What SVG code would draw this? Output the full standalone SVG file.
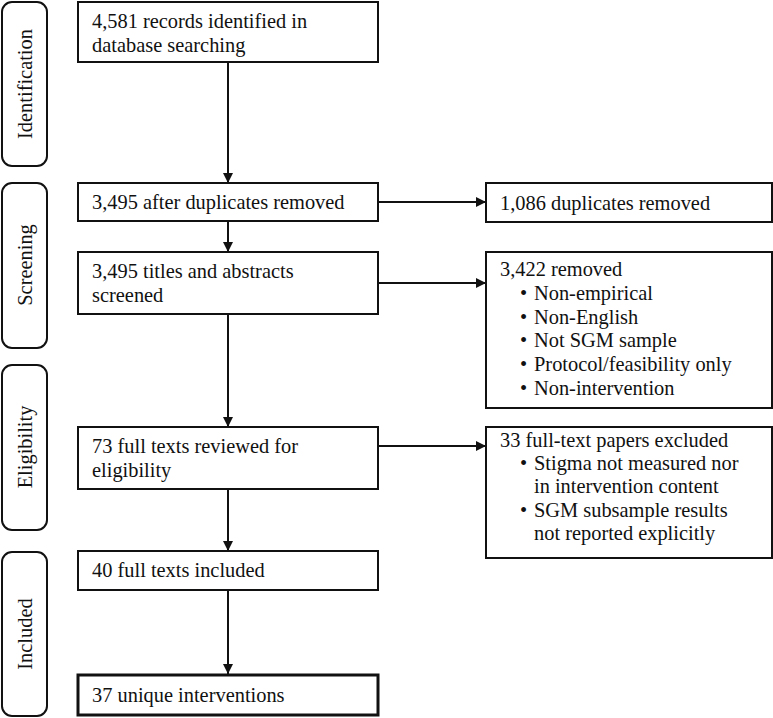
<svg xmlns="http://www.w3.org/2000/svg" width="773" height="718" viewBox="0 0 773 718">
<style>
text{font-family:"Liberation Serif","Times New Roman",serif;font-size:20.4px;fill:#111}
.box{fill:#fff;stroke:#111;stroke-width:2}
.thick{stroke-width:3}
.side{fill:#fff;stroke:#111;stroke-width:2}
.c{stroke:#111;stroke-width:2;fill:none}
</style>
<defs>
<marker id="ah" markerWidth="10" markerHeight="10" refX="10" refY="5" orient="auto" markerUnits="userSpaceOnUse">
<path d="M0,0 L10,5 L0,10 Z" fill="#111"/>
</marker>
</defs>
<rect width="773" height="718" fill="#fff"/>
<g id="lbl-identification"><rect class="side" x="2" y="2" width="45" height="164" rx="10"/><text transform="translate(32,84) rotate(-90)" text-anchor="middle">Identification</text></g>
<g id="lbl-screening"><rect class="side" x="2" y="183" width="45" height="165" rx="10"/><text transform="translate(32,265) rotate(-90)" text-anchor="middle">Screening</text></g>
<g id="lbl-eligibility"><rect class="side" x="2" y="365" width="45" height="165" rx="10"/><text transform="translate(32,447) rotate(-90)" text-anchor="middle">Eligibility</text></g>
<g id="lbl-included"><rect class="side" x="2" y="552" width="45" height="164" rx="10"/><text transform="translate(32,634) rotate(-90)" text-anchor="middle">Included</text></g>

<g id="n1"><rect class="box" x="78" y="2" width="300" height="60"/><text x="92" y="28">4,581 records identified in</text><text x="92" y="52">database searching</text></g>
<g id="n2"><rect class="box" x="78" y="183" width="300" height="38"/><text x="92" y="209">3,495 after duplicates removed</text></g>
<g id="n3"><rect class="box" x="78" y="252" width="300" height="62"/><text x="92" y="278">3,495 titles and abstracts</text><text x="92" y="302">screened</text></g>
<g id="n4"><rect class="box" x="78" y="427" width="300" height="62"/><text x="92" y="453">73 full texts reviewed for</text><text x="92" y="477">eligibility</text></g>
<g id="n5"><rect class="box" x="78" y="551" width="300" height="39"/><text x="92" y="577">40 full texts included</text></g>
<g id="n6"><rect class="box thick" x="78" y="675" width="300" height="40"/><text x="92" y="702">37 unique interventions</text></g>

<g id="r1"><rect class="box" x="486" y="183" width="286" height="39"/><text x="500" y="210">1,086 duplicates removed</text></g>
<g id="r2"><rect class="box" x="486" y="252" width="286" height="156"/><text x="500" y="276">3,422 removed</text>
<text x="520" y="300">•</text><text x="534" y="300">Non-empirical</text>
<text x="520" y="324">•</text><text x="534" y="324">Non-English</text>
<text x="520" y="347">•</text><text x="534" y="347">Not SGM sample</text>
<text x="520" y="371">•</text><text x="534" y="371">Protocol/feasibility only</text>
<text x="520" y="395">•</text><text x="534" y="395">Non-intervention</text></g>
<g id="r3"><rect class="box" x="486" y="427" width="286" height="131"/><text x="500" y="447">33 full-text papers excluded</text>
<text x="520" y="470">•</text><text x="534" y="470">Stigma not measured nor</text>
<text x="534" y="493">in intervention content</text>
<text x="520" y="517">•</text><text x="534" y="517">SGM subsample results</text>
<text x="534" y="540">not reported explicitly</text></g>

<g id="connectors">
<line class="c" x1="228" y1="62" x2="228" y2="183" marker-end="url(#ah)"/>
<line class="c" x1="228" y1="221" x2="228" y2="252" marker-end="url(#ah)"/>
<line class="c" x1="228" y1="314" x2="228" y2="427" marker-end="url(#ah)"/>
<line class="c" x1="228" y1="489" x2="228" y2="551" marker-end="url(#ah)"/>
<line class="c" x1="228" y1="590" x2="228" y2="674" marker-end="url(#ah)"/>
<line class="c" x1="378" y1="202" x2="486" y2="202" marker-end="url(#ah)"/>
<line class="c" x1="378" y1="283" x2="486" y2="283" marker-end="url(#ah)"/>
<line class="c" x1="378" y1="446" x2="486" y2="446" marker-end="url(#ah)"/>
</g>
</svg>
